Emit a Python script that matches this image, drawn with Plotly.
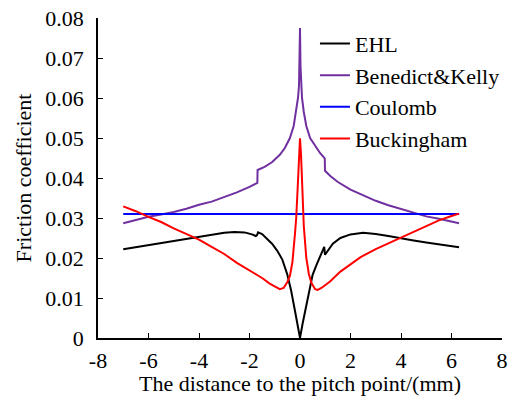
import plotly.graph_objects as go

# Friction coefficient along the line of action, four friction models
ehl_x = [-7.0, -6.5, -6.0, -5.5, -5.0, -4.5, -4.0, -3.5, -3.0, -2.6, -2.2, -1.9, -1.75, -1.70,
         -1.66, -1.5, -1.3, -1.1, -0.9, -0.7, -0.5, -0.35, -0.2, -0.1, 0.0, 0.1, 0.2, 0.35,
         0.5, 0.65, 0.8, 0.9, 0.96, 0.99, 1.1, 1.3, 1.6, 2.0, 2.5, 3.0, 3.5, 4.0, 4.5, 5.0,
         5.5, 6.0, 6.3]
ehl_y = [0.0222, 0.0227, 0.0232, 0.0237, 0.0242, 0.0247, 0.0252, 0.0258, 0.0263, 0.0265,
         0.0264, 0.0259, 0.0255, 0.0257, 0.0264, 0.0260, 0.0248, 0.0235, 0.0218, 0.0196,
         0.0158, 0.0118, 0.0068, 0.0035, 0.0, 0.0035, 0.0068, 0.0118, 0.0158, 0.0182,
         0.0205, 0.0218, 0.0228, 0.0208, 0.0218, 0.0236, 0.0250, 0.0259, 0.0263, 0.0260,
         0.0255, 0.0249, 0.0244, 0.0239, 0.0234, 0.0230, 0.0227]

bk_x = [-7.0, -6.5, -6.0, -5.5, -5.0, -4.5, -4.0, -3.5, -3.0, -2.5, -2.0, -1.69, -1.68, -1.4,
        -1.1, -0.8, -0.6, -0.4, -0.25, -0.15, -0.08, -0.04, -0.02, 0.0, 0.02, 0.04, 0.08,
        0.15, 0.25, 0.4, 0.6, 0.8, 0.98, 0.99, 1.2, 1.5, 2.0, 2.5, 3.0, 3.5, 4.0, 4.6, 5.0,
        5.5, 6.0, 6.3]
bk_y = [0.0287, 0.0295, 0.0303, 0.0309, 0.0315, 0.0323, 0.0333, 0.0341, 0.0352, 0.0364,
        0.0378, 0.0388, 0.0420, 0.0428, 0.0440, 0.0458, 0.0475, 0.0500, 0.0530, 0.0565,
        0.0600, 0.0630, 0.0680, 0.0775, 0.0680, 0.0630, 0.0600, 0.0565, 0.0530, 0.0500,
        0.0480, 0.0462, 0.0449, 0.0418, 0.0405, 0.0390, 0.0371, 0.0357, 0.0343, 0.0332,
        0.0323, 0.0311, 0.0304, 0.0298, 0.0291, 0.0287]

coulomb_x = [-7.0, 6.3]
coulomb_y = [0.031, 0.031]

buck_x = [-7.0, -6.5, -6.0, -5.5, -5.0, -4.5, -4.0, -3.5, -3.0, -2.5, -2.0, -1.5, -1.2, -0.95,
          -0.8, -0.65, -0.5, -0.4, -0.3, -0.2, -0.15, -0.09, -0.04, 0.0, 0.04, 0.09, 0.15,
          0.25, 0.35, 0.45, 0.6, 0.7, 0.85, 1.2, 1.6, 2.0, 2.4, 3.0, 3.5, 4.0, 4.5, 5.0, 5.5,
          6.0, 6.3]
buck_y = [0.0329, 0.0317, 0.0303, 0.0290, 0.0274, 0.0259, 0.0246, 0.0228, 0.0210, 0.0188,
          0.0170, 0.0150, 0.0136, 0.0126, 0.0122, 0.0125, 0.0140, 0.0155, 0.0190, 0.0260,
          0.0300, 0.0378, 0.0460, 0.0499, 0.0460, 0.0370, 0.0280, 0.0200, 0.0160, 0.0138,
          0.0122, 0.0120, 0.0125, 0.0142, 0.0166, 0.0184, 0.0202, 0.0222, 0.0236, 0.0250,
          0.0265, 0.0280, 0.0294, 0.0305, 0.0311]

# Axis ticks and their labels (plain hyphen for negatives)
x_tick_vals = [-8, -6, -4, -2, 0, 2, 4, 6, 8]
x_tick_text = ["-8", "-6", "-4", "-2", "0", "2", "4", "6", "8"]
y_tick_vals = [0, 0.01, 0.02, 0.03, 0.04, 0.05, 0.06, 0.07, 0.08]
y_tick_text = ["0", "0.01", "0.02", "0.03", "0.04", "0.05", "0.06", "0.07", "0.08"]

TICK_FONT = dict(family="Tinos", size=22, color="black")
TITLE_FONT = dict(family="Times", size=22, color="black")
LEGEND_FONT = dict(family="Nimbus Roman", size=22, color="black")

fig = go.Figure()
fig.add_trace(go.Scatter(x=ehl_x, y=ehl_y, mode="lines", name="EHL",
                         line=dict(color="#000000", width=2)))
fig.add_trace(go.Scatter(x=bk_x, y=bk_y, mode="lines", name="Benedict&Kelly",
                         line=dict(color="#7030A0", width=2)))
fig.add_trace(go.Scatter(x=coulomb_x, y=coulomb_y, mode="lines", name="Coulomb",
                         line=dict(color="#0000FF", width=2)))
fig.add_trace(go.Scatter(x=buck_x, y=buck_y, mode="lines", name="Buckingham",
                         line=dict(color="#FF0000", width=2)))

axis_common = dict(
    showgrid=False, zeroline=False, showline=True, linecolor="black", linewidth=1.5,
    ticks="inside", ticklen=5, tickwidth=1.2, tickcolor="black",
    tickfont=TICK_FONT,
)

fig.update_xaxes(range=[-8, 8], tickmode="array", tickvals=x_tick_vals, ticktext=x_tick_text,
                 title=dict(text="The distance to the pitch point/(mm)",
                            font=TITLE_FONT, standoff=4),
                 ticklabelstandoff=2, **axis_common)
fig.update_yaxes(range=[0, 0.08], tickmode="array", tickvals=y_tick_vals, ticktext=y_tick_text,
                 title=dict(text="Friction coefficient", font=TITLE_FONT, standoff=8),
                 ticklabelstandoff=8, **axis_common)

fig.update_layout(
    width=509, height=396,
    margin=dict(l=98, r=7, t=18, b=58, autoexpand=False),
    paper_bgcolor="white", plot_bgcolor="white",
    font=dict(family="Times", color="black"),
    showlegend=True,
    legend=dict(x=0.537, y=0.985, xanchor="left", yanchor="top",
                bgcolor="rgba(0,0,0,0)", borderwidth=0,
                font=LEGEND_FONT, tracegroupgap=0, itemwidth=30),
)

fig.write_html("out.html")
